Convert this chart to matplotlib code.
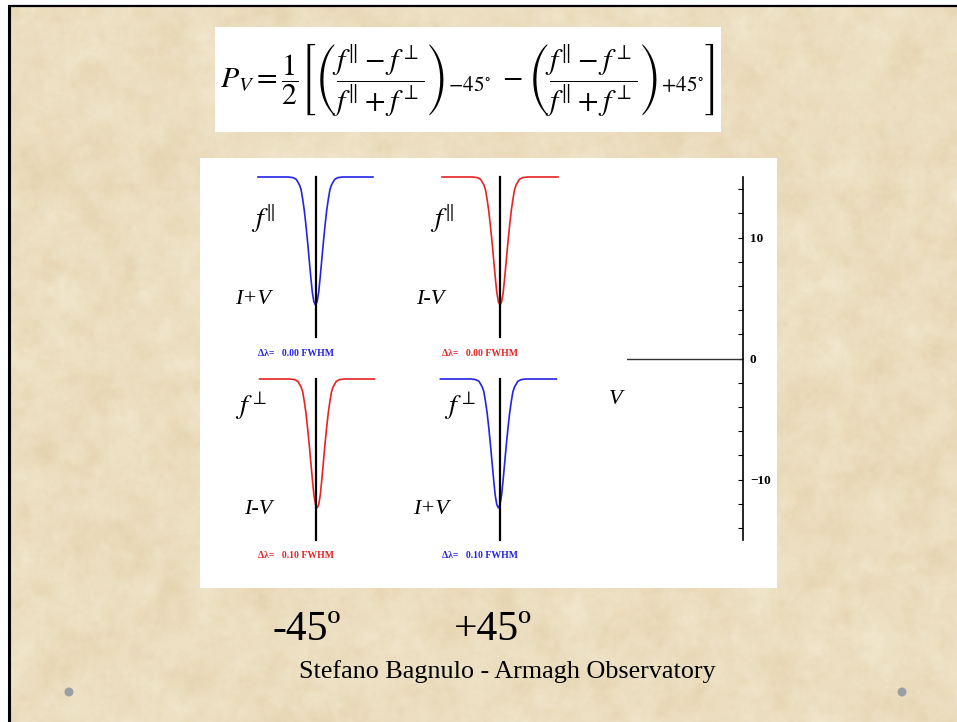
import matplotlib.pyplot as plt
import numpy as np
from matplotlib.patches import Rectangle, Circle

plt.rcParams['mathtext.fontset'] = 'stix'

W, H = 957, 722

# half line profile: distance from line centre (FWHM) and normalised flux
prof_dx = [0.0, 0.1, 0.2, 0.3, 0.4, 0.5, 0.6, 0.7, 0.8, 0.9, 1.0, 1.2, 1.4, 1.7, 2.2, 3.6]
prof_flux = [0.20, 0.22, 0.28, 0.38, 0.49, 0.60, 0.70, 0.79, 0.86, 0.92, 0.95, 0.985, 0.996, 1.0, 1.0, 1.0]

# the four beams: top row f_par, bottom row f_perp
beam_name = [r'$f^{\Vert}$', r'$f^{\Vert}$', r'$f^{\perp}$', r'$f^{\perp}$']
beam_stokes = ['I+V', 'I-V', 'I-V', 'I+V']
beam_color = ['#2323e6', '#e62323', '#e62323', '#2323e6']
beam_dl = [0.00, 0.00, 0.10, 0.10]

v_ticks = [-10, 0, 10]
v_lim = [-15, 15]

angle_labels = ['-45º', '+45º']
credit = 'Stefano Bagnulo - Armagh Observatory'


def box(x0, y0, x1, y1):
    return [x0 / W, 1 - y1 / H, (x1 - x0) / W, (y1 - y0) / H]


def fxy(x, y):
    return x / W, 1 - y / H


fig = plt.figure(figsize=(W / 100, H / 100), dpi=100)

# parchment background
rng = np.random.default_rng(7)


def smooth_noise(sigma):
    n = rng.standard_normal((H, W))
    fy = np.fft.fftfreq(H)[:, None]
    fx = np.fft.fftfreq(W)[None, :]
    g = np.exp(-(fx ** 2 + fy ** 2) * (2 * np.pi * sigma) ** 2 / 2)
    s = np.real(np.fft.ifft2(np.fft.fft2(n) * g))
    return s / s.std()


tex = 0.5 * smooth_noise(10) + 0.3 * smooth_noise(4) + 0.2 * smooth_noise(1.5)
base = np.array([241, 231, 206]) / 255
dark = np.array([222, 199, 156]) / 255
amt = np.clip(0.3 + 0.14 * tex, 0, 1)[..., None]
img = base + (dark - base) * amt

bg = fig.add_axes([0, 0, 1, 1])
bg.imshow(img, extent=(0, W, H, 0), interpolation='bilinear')
bg.set_xlim(0, W)
bg.set_ylim(H, 0)
bg.axis('off')

# slide frame
bg.add_patch(Rectangle((0, 0), W, 5, color='white', lw=0))
bg.add_patch(Rectangle((0, 0), 8, H, color='white', lw=0))
bg.plot([8, W], [6, 6], color='black', lw=1.6, solid_capstyle='butt')
bg.plot([9, 9], [5, H], color='black', lw=2.2, solid_capstyle='butt')
for cx in [69, 902]:
    bg.add_patch(Circle((cx, 692), 4.5, color='#9c9ea6', lw=0))

# white panels
bg.add_patch(Rectangle((215, 27), 506, 105, color='white', lw=0))
bg.add_patch(Rectangle((200, 158), 577, 430, color='white', lw=0))

formula = (r'$P_V = \dfrac{1}{2}\left[\left(\dfrac{f^{\Vert} - f^{\perp}}{f^{\Vert} + f^{\perp}}\right)_{-45^{\circ}}'
           r'\ -\left(\dfrac{f^{\Vert} - f^{\perp}}{f^{\Vert} + f^{\perp}}\right)_{+45^{\circ}}\right]$')
fig.text(*fxy(467, 80), formula, ha='center', va='center', fontsize=21.5)

# line profiles
dx = np.array(prof_dx)
fl = np.array(prof_flux)
x_prof = np.concatenate([-dx[::-1], dx[1:]])
y_prof = np.concatenate([fl[::-1], fl[1:]])

panel_px = [(258, 177, 373, 337), (442, 177, 558, 337),
            (258, 379, 373, 540), (442, 379, 558, 540)]
name_px = [(263, 219), (442, 219), (251, 406), (460, 406)]
stokes_px = [(253, 300), (430, 300), (258, 510), (431, 510)]

for i in range(4):
    x0, y0, x1, y1 = panel_px[i]
    ax = fig.add_axes(box(x0, y0, x1, y1))
    ax.set_xlim(-3.6, 3.6)
    ax.set_ylim(0, 1)
    ax.axis('off')
    sign = -1 if beam_stokes[i] == 'I+V' else 1
    ax.plot(x_prof + sign * beam_dl[i], y_prof, color=beam_color[i], lw=1.2, clip_on=False)
    ax.plot([0, 0], [0, 1], color='black', lw=1.6, clip_on=False)

    fig.text(*fxy(*name_px[i]), beam_name[i], ha='center', va='center', fontsize=20)
    fig.text(*fxy(*stokes_px[i]), beam_stokes[i], ha='center', va='center', fontsize=16,
             family='Liberation Serif', style='italic')
    fig.text(*fxy(x0, y1 + 16), 'Δλ=   %.2f FWHM' % beam_dl[i], ha='left', va='center',
             fontsize=7, family='Liberation Serif', weight='bold', color=beam_color[i])

# V axis
axv = fig.add_axes(box(627, 177, 743, 540))
axv.set_ylim(*v_lim)
axv.set_xlim(0, 1)
axv.axhline(0, color='#333333', lw=1.0)
for s in ['top', 'bottom', 'left']:
    axv.spines[s].set_visible(False)
axv.spines['right'].set_linewidth(1.2)
axv.set_xticks([])
axv.yaxis.tick_right()
axv.set_yticks(v_ticks)
axv.set_yticks(np.arange(-14, 15, 2), minor=True)
axv.tick_params(axis='y', which='both', direction='in', length=3.5, width=0.8, pad=5)
axv.set_yticklabels(['\u221210', '0', '10'], fontsize=9.5, family='Liberation Serif', weight='bold')
axv.patch.set_alpha(0)
fig.text(*fxy(616, 400), 'V', ha='center', va='center', fontsize=16,
         family='Liberation Serif', style='italic')

# bottom captions
fig.text(*fxy(307, 630), angle_labels[0], ha='center', va='center', fontsize=30, family='Liberation Serif')
fig.text(*fxy(493, 630), angle_labels[1], ha='center', va='center', fontsize=30, family='Liberation Serif')
fig.text(*fxy(507, 672), credit, ha='center', va='center', fontsize=18.8, family='Liberation Serif')

fig.savefig('out.png', dpi=100)
